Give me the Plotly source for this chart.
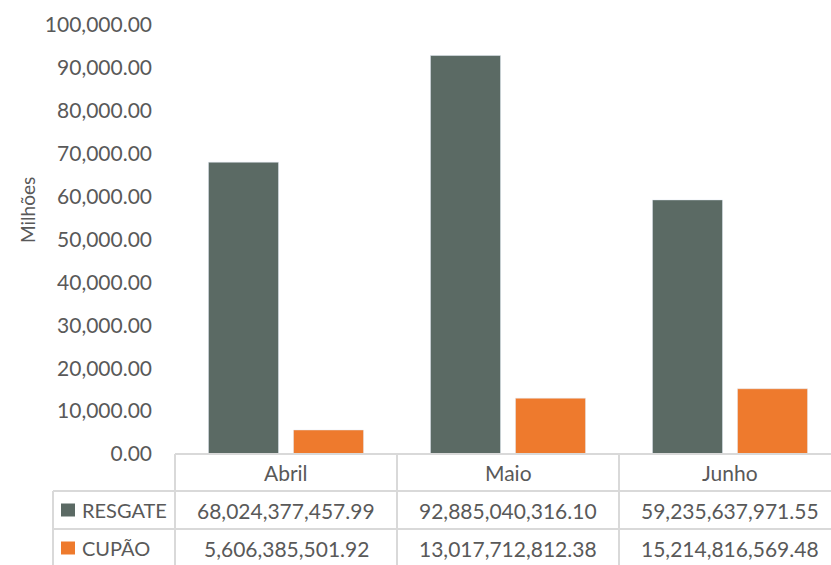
import plotly.graph_objects as go

categories = ["Abril", "Maio", "Junho"]
resgate = [68024377457.99, 92885040316.10, 59235637971.55]
cupao = [5606385501.92, 13017712812.38, 15214816569.48]
series_names = ["RESGATE", "CUPÃO"]
tick_vals = [0, 10000, 20000, 30000, 40000, 50000, 60000, 70000, 80000, 90000, 100000]

W, H = 831, 565
C_RES = "#5B6A64"
C_CUP = "#EE7A2D"
TXT = "#595959"
GRID = "#D9D9D9"
FONT = "Lato"
FS = 21

def px(x):
    return x / W

def py(y):
    return 1 - y / H

fig = go.Figure()
fig.add_trace(go.Bar(x=categories, y=[v / 1e6 for v in resgate], name=series_names[0],
                     marker=dict(color=C_RES), showlegend=False))
fig.add_trace(go.Bar(x=categories, y=[v / 1e6 for v in cupao], name=series_names[1],
                     marker=dict(color=C_CUP), showlegend=False))

x0, x1 = 175, 831
y0, y1 = 454, 25
fig.update_layout(
    width=W, height=H,
    margin=dict(l=0, r=0, t=0, b=0),
    paper_bgcolor="white", plot_bgcolor="white",
    barmode="group", bargap=0.234, bargroupgap=0.176,
    font=dict(family=FONT, color=TXT, size=FS),
    xaxis=dict(domain=[px(x0), px(x1)], range=[-0.5, 2.5 - 10 / 222],
               showticklabels=False, showline=False, showgrid=False, zeroline=False,
               automargin=False, fixedrange=True),
    yaxis=dict(domain=[py(y0), py(y1)], range=[0, 100000], tickvals=tick_vals,
               tickformat=",.2f", showgrid=False, zeroline=False, showline=False,
               ticks="", ticklabelstandoff=22, automargin=False,
               tickfont=dict(size=FS, color=TXT, family=FONT)),
)

def text(x, y, s, xanchor="center", angle=0, size=FS):
    fig.add_annotation(x=px(x), y=py(y), xref="paper", yref="paper", text=s, showarrow=False,
                       xanchor=xanchor, yanchor="middle", textangle=angle,
                       font=dict(size=size, color=TXT, family=FONT))

# Y axis title
text(27, 210, "Milhões", angle=-90, size=19)

# Data table lines
lw = 2
def hline(xa, xb, y):
    fig.add_shape(type="line", xref="paper", yref="paper", x0=px(xa), x1=px(xb), y0=py(y), y1=py(y),
                  line=dict(color=GRID, width=lw))

def vline(x, ya, yb):
    fig.add_shape(type="line", xref="paper", yref="paper", x0=px(x), x1=px(x), y0=py(ya), y1=py(yb),
                  line=dict(color=GRID, width=lw))

hline(175, 831, 454)
hline(53, 831, 491)
hline(53, 831, 529)
hline(53, 831, 567)
vline(53, 491, 570)
for xv in [175, 397, 619]:
    vline(xv, 454, 570)

col_centers = [286, 508, 730]
for cx, cat in zip(col_centers, categories):
    text(cx, 472, cat)

row_ys = [510, 548]
row_colors = [C_RES, C_CUP]
for ry, name, col, vals in zip(row_ys, series_names, row_colors, [resgate, cupao]):
    fig.add_shape(type="rect", xref="paper", yref="paper", x0=px(61), x1=px(75), y0=py(ry - 6.5), y1=py(ry + 6.5),
                  fillcolor=col, line=dict(width=0))
    text(80, ry, name, xanchor="left", size=20)
    for cx, v in zip(col_centers, vals):
        text(cx, ry, f"{v:,.2f}")

fig.write_html("out.html", config={"displayModeBar": False},
               post_script="document.body.style.margin='0';document.body.style.overflow='hidden';")
